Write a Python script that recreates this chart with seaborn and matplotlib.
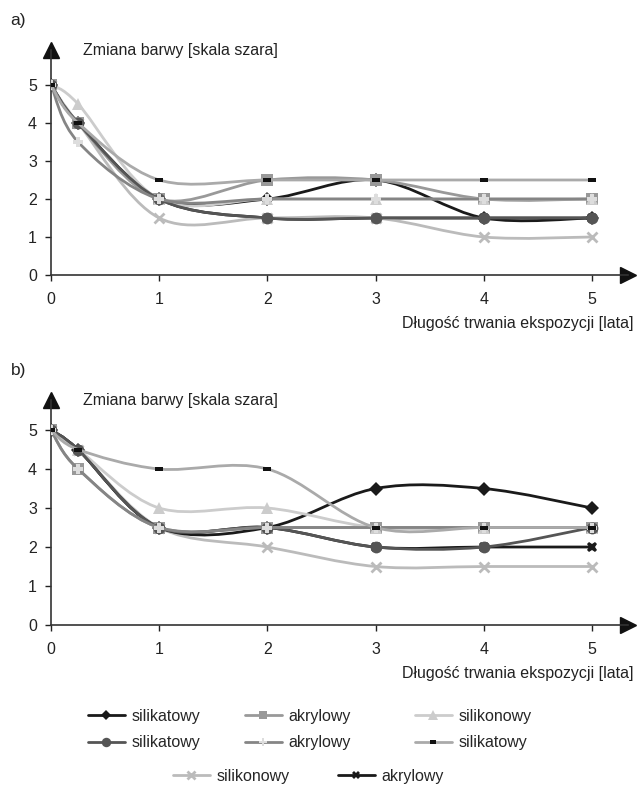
import numpy as np
import matplotlib
matplotlib.use("Agg")
import matplotlib.pyplot as plt
from matplotlib.path import Path
from matplotlib.patches import PathPatch
from matplotlib.lines import Line2D
import seaborn as sns

# czas ekspozycji [lata]
lata = [0, 0.25, 1, 2, 3, 4, 5]
nazwy = ["silikatowy", "akrylowy", "silikonowy", "silikatowy",
         "akrylowy", "silikatowy", "silikonowy", "akrylowy"]

# a) zmiana barwy
a_silikatowy_1 = [5, 4, 2, 2, 2.5, 1.5, 1.5]
a_akrylowy_1 = [5, 4, 2, 2.5, 2.5, 2, 2]
a_silikonowy_1 = [5, 4.5, 2, 2, 2, 2, 2]
a_silikatowy_2 = [5, 4, 2, 1.5, 1.5, 1.5, 1.5]
a_akrylowy_2 = [5, 3.5, 2, 2, 2, 2, 2]
a_silikatowy_3 = [5, 4, 2.5, 2.5, 2.5, 2.5, 2.5]
a_silikonowy_2 = [5, 4, 1.5, 1.5, 1.5, 1, 1]
a_akrylowy_3 = [5, 4, 2, 1.5, 1.5, 1.5, 1.5]

# b) zmiana barwy
b_silikatowy_1 = [5, 4.5, 2.5, 2.5, 3.5, 3.5, 3]
b_akrylowy_1 = [5, 4, 2.5, 2.5, 2.5, 2.5, 2.5]
b_silikonowy_1 = [5, 4.5, 3, 3, 2.5, 2.5, 2.5]
b_silikatowy_2 = [5, 4.5, 2.5, 2.5, 2, 2, 2.5]
b_akrylowy_2 = [5, 4, 2.5, 2.5, 2.5, 2.5, 2.5]
b_silikatowy_3 = [5, 4.5, 4, 4, 2.5, 2.5, 2.5]
b_silikonowy_2 = [5, 4.5, 2.5, 2, 1.5, 1.5, 1.5]
b_akrylowy_3 = [5, 4.5, 2.5, 2.5, 2, 2, 2]

seria_a = [a_silikatowy_1, a_akrylowy_1, a_silikonowy_1, a_silikatowy_2,
           a_akrylowy_2, a_silikatowy_3, a_silikonowy_2, a_akrylowy_3]
seria_b = [b_silikatowy_1, b_akrylowy_1, b_silikonowy_1, b_silikatowy_2,
           b_akrylowy_2, b_silikatowy_3, b_silikonowy_2, b_akrylowy_3]

rect = Path([(-1, -0.5), (1, -0.5), (1, 0.5), (-1, 0.5), (-1, -0.5)])
# kolor linii, marker, kolor markera, rozmiar, grubosc krawedzi, zorder
styl = [
    ("#1a1a1a", "D", "#1a1a1a", 7, 0, 3),
    ("#999999", "s", "#999999", 8, 0, 4),
    ("#cccccc", "^", "#cccccc", 9, 0, 5),
    ("#555555", "o", "#555555", 8.5, 0, 6),
    ("#858585", "P", "#dddddd", 7, 0, 7),
    ("#aaaaaa", rect, "#111111", 6, 0, 8),
    ("#bbbbbb", "x", "#bbbbbb", 7, 2, 2.5),
    ("#1a1a1a", "X", "#1a1a1a", 7.5, 0, 2),
]

sns.set_style("white")
plt.rcParams["font.family"] = ["Liberation Sans", "DejaVu Sans"]
FS = 11.5
W, H = 638, 785


def smooth_path(x, y):
    pts = np.column_stack([x, y]).astype(float)
    n = len(pts)
    verts, codes = [pts[0]], [Path.MOVETO]
    for i in range(n - 1):
        p0, p1 = pts[max(i - 1, 0)], pts[i]
        p2, p3 = pts[i + 1], pts[min(i + 2, n - 1)]
        verts += [p1 + (p2 - p0) / 6, p2 - (p3 - p1) / 6, p2]
        codes += [Path.CURVE4] * 3
    return Path(verts, codes)


def panel(ax, serie, litera, ytop):
    for vals, (lc, m, mc, ms, mew, z) in zip(serie, styl):
        ax.add_patch(PathPatch(smooth_path(lata, vals), fc="none", ec=lc,
                               lw=2.0, capstyle="round", joinstyle="round",
                               zorder=z))
        sns.lineplot(x=lata, y=vals, ax=ax, linestyle="none", marker=m,
                     color=mc, markersize=ms, markeredgewidth=mew,
                     markeredgecolor=mc, estimator=None, zorder=z + 0.1)
    ax.set_xlim(0, 5.333)
    ax.set_ylim(0, ytop)
    for s in ["top", "right"]:
        ax.spines[s].set_visible(False)
    for s in ["left", "bottom"]:
        ax.spines[s].set_color("#333333")
        ax.spines[s].set_linewidth(1.2)
    ax.plot(1, 0, ">", color="#111111", ms=11, transform=ax.transAxes, clip_on=False)
    ax.plot(0, 1, "^", color="#111111", ms=11, transform=ax.transAxes, clip_on=False)
    ax.set_xticks(range(6))
    ax.set_yticks(range(6))
    ax.tick_params(axis="both", labelsize=FS, colors="#222222", length=4,
                   width=1, direction="out", pad=6, bottom=True, left=True)
    ax.tick_params(axis="x", pad=8)
    ax.set_xlabel("")
    ax.set_ylabel("")
    ax.text(0.055, 1.0, "Zmiana barwy [skala szara]", transform=ax.transAxes,
            fontsize=FS, va="center", ha="left", color="#222222")
    ax.text(1.01, -0.215, "Długość trwania ekspozycji [lata]", transform=ax.transAxes,
            fontsize=FS, va="center", ha="right", color="#222222")
    ax.text(-0.07, 1.13, litera, transform=ax.transAxes, fontsize=FS + 1,
            va="center", ha="left", color="#222222")


fig = plt.figure(figsize=(W / 100, H / 100), dpi=100)
ax_a = fig.add_axes([51 / W, 1 - 275 / H, 577 / W, 225 / H])
ax_b = fig.add_axes([51 / W, 1 - 625 / H, 577 / W, 225 / H])
panel(ax_a, seria_a, "a)", 5.92)
panel(ax_b, seria_b, "b)", 5.77)

# legenda
poz = [(88, 716), (245, 716), (415, 716), (88, 743), (245, 743), (415, 743),
       (173, 776), (338, 776)]
for i, (px, py) in enumerate(poz):
    lc, m, mc, ms, mew, z = styl[i]
    h = Line2D([], [], color=lc, lw=2.0, marker=m, markerfacecolor=mc,
               markeredgecolor=mc, markersize=ms * 0.8, markeredgewidth=mew)
    fig.legend(handles=[h], labels=[nazwy[i]], loc="center left",
               bbox_to_anchor=(px / W, 1 - py / H), frameon=False,
               fontsize=FS, handlelength=2.3, handletextpad=0.4,
               borderpad=0, borderaxespad=0)

fig.savefig("out.png", dpi=100)
